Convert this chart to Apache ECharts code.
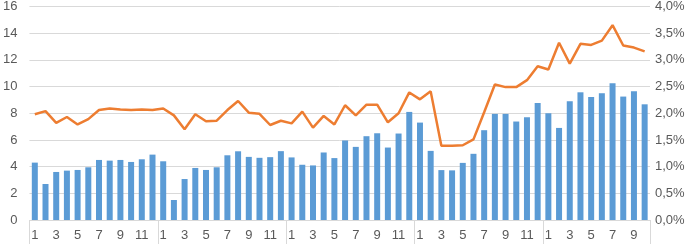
<!DOCTYPE html>
<html>
<head>
<meta charset="utf-8">
<script src="https://cdn.jsdelivr.net/npm/echarts@6/dist/echarts.min.js"></script>
<style>html,body{margin:0;padding:0;background:#fff}#c{width:691px;height:244px}</style>
</head>
<body>
<div id="c"></div>
<script>
const months = [
  1,2,3,4,5,6,7,8,9,10,11,12,
  1,2,3,4,5,6,7,8,9,10,11,12,
  1,2,3,4,5,6,7,8,9,10,11,12,
  1,2,3,4,5,6,7,8,9,10,11,12,
  1,2,3,4,5,6,7,8,9,10
];
const barValues = [
  4.3,2.7,3.6,3.7,3.75,3.95,4.5,4.45,4.5,4.35,4.55,4.9,
  4.4,1.5,3.07,3.9,3.75,3.95,4.85,5.15,4.73,4.66,4.71,5.16,
  4.69,4.14,4.09,5.06,4.64,5.96,5.48,6.28,6.5,5.43,6.48,8.1,
  7.3,5.18,3.74,3.72,4.28,4.96,6.73,7.95,7.95,7.38,7.7,8.77,
  8.0,6.9,8.9,9.57,9.22,9.5,10.24,9.25,9.64,8.67
];
const lineValues = [
  1.98,2.04,1.82,1.93,1.79,1.89,2.06,2.09,2.07,2.06,2.07,2.06,
  2.09,1.96,1.70,1.98,1.85,1.86,2.06,2.23,2.01,1.99,1.78,1.86,
  1.81,2.03,1.73,1.95,1.79,2.15,1.96,2.16,2.16,1.83,2.00,2.39,
  2.26,2.41,1.39,1.39,1.40,1.51,2.02,2.54,2.49,2.49,2.62,2.88,
  2.82,3.32,2.93,3.30,3.28,3.36,3.65,3.27,3.23,3.16
];
const leftTicks = {min:0, max:16, interval:2};
const rightTicks = {min:0, max:4, interval:0.5};

const chart = echarts.init(document.getElementById('c'), null, {renderer:'canvas'});
const font = 'Liberation Sans';
const textColor = '#595959';
chart.setOption({
  animation:false,
  backgroundColor:'#fff',
  grid:{left:27, right:41, top:6.5, bottom:24, containLabel:false},
  xAxis:{
    type:'category',
    data: months.map(String),
    boundaryGap:true,
    axisLine:{show:true, lineStyle:{color:'#d9d9d9', width:1}},
    axisTick:{show:true, length:24, interval:(i)=> i % 12 === 0, lineStyle:{color:'#d9d9d9'}},
    axisLabel:{interval:1, color:textColor, fontFamily:font, fontSize:13, margin:9},
    splitLine:{show:false}
  },
  yAxis:[
    {type:'value', min:leftTicks.min, max:leftTicks.max, interval:leftTicks.interval,
     axisLine:{show:false}, axisTick:{show:false},
     axisLabel:{color:textColor, fontFamily:font, fontSize:13, margin:12},
     splitLine:{show:true, lineStyle:{color:'#d9d9d9', width:1}}},
    {type:'value', min:rightTicks.min, max:rightTicks.max, interval:rightTicks.interval,
     axisLine:{show:false}, axisTick:{show:false},
     axisLabel:{color:textColor, fontFamily:font, fontSize:13, margin:5,
       formatter:(v)=> v.toFixed(1).replace('.', ',') + '%'},
     splitLine:{show:false}}
  ],
  series:[
    {type:'bar', data:barValues, yAxisIndex:0, barWidth:6,
     itemStyle:{color:'#5B9BD5'}},
    {type:'line', data:lineValues, yAxisIndex:1, symbol:'none', smooth:false,
     lineStyle:{color:'#ED7D31', width:2.5}, z:5}
  ]
});
</script>
</body>
</html>
